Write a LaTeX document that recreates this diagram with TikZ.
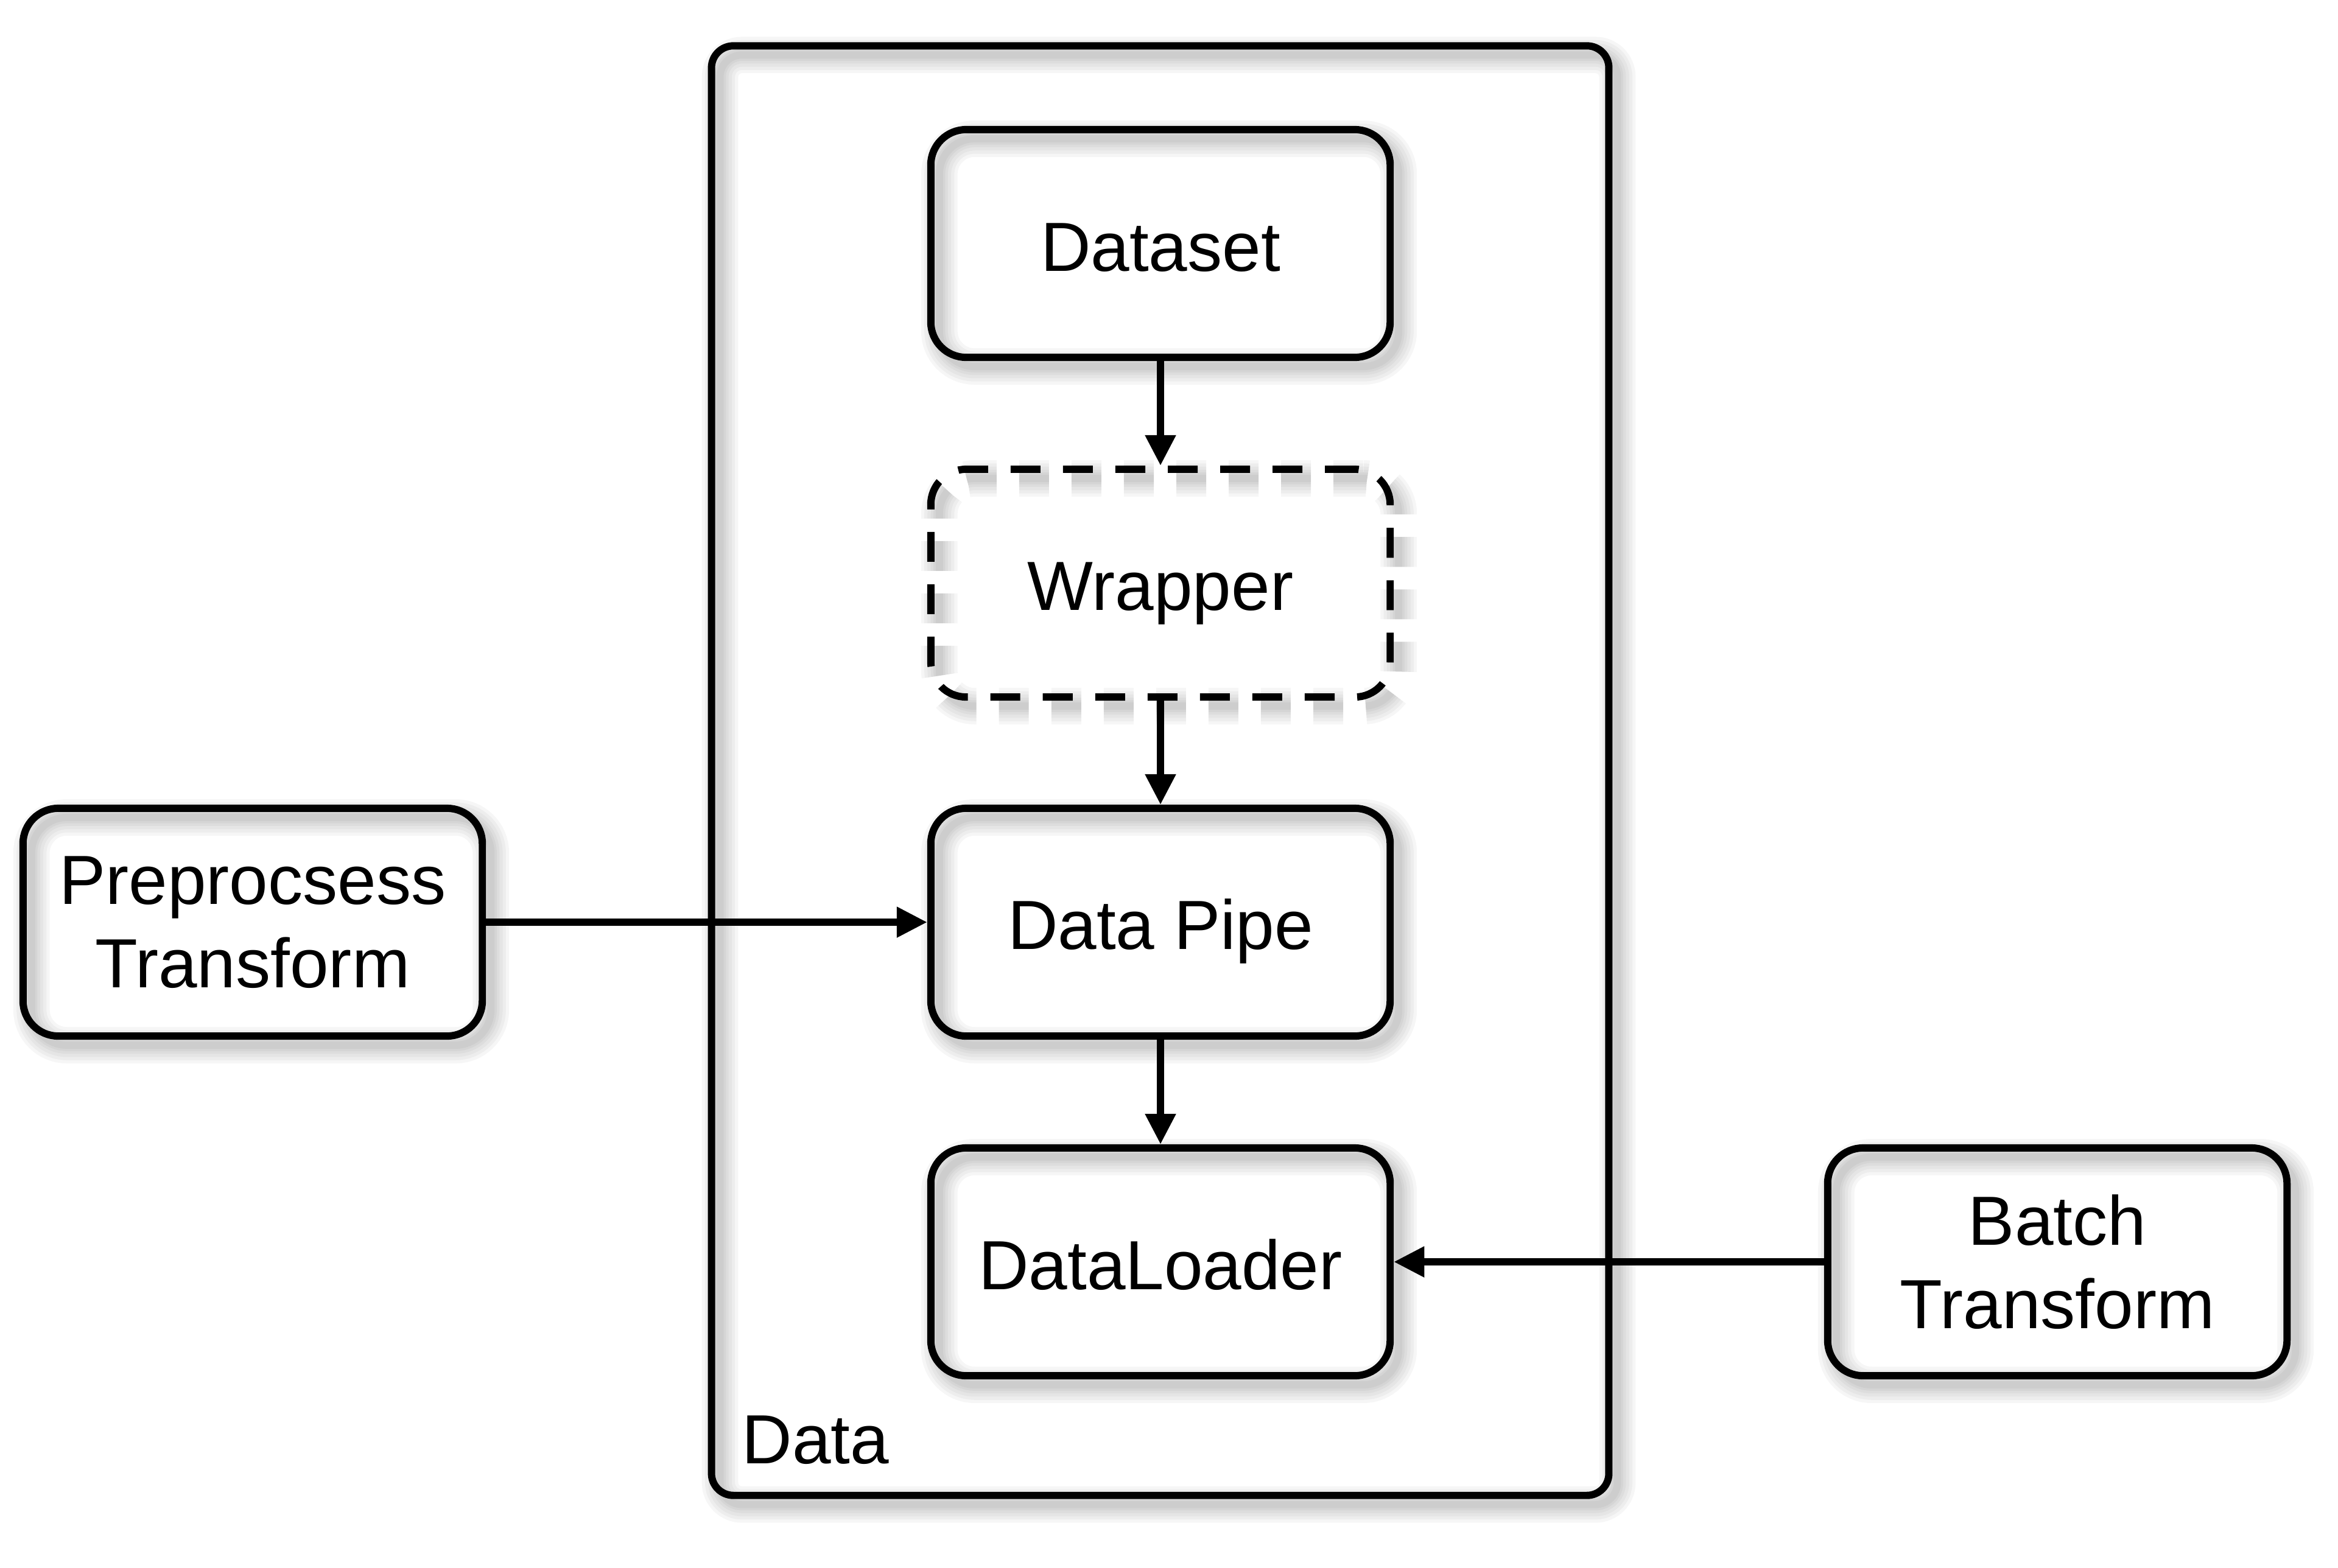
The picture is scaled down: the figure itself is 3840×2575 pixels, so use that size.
\documentclass[tikz,border=0pt]{standalone}
\usepackage{fontspec}
\setmainfont{Liberation Sans}
\usetikzlibrary{arrows.meta}
\newcommand\linestrut{\rule[-6.4pt]{0pt}{38.4pt}}

\begin{document}
\begin{tikzpicture}[x=0.01cm, y=-0.01cm,
            softedge/.style={draw=black, draw opacity=0.035, line width=#1,
                transform canvas={xshift=0.14cm, yshift=-0.15cm}},
            drop/.style={preaction={softedge=17pt}, preaction={softedge=14pt},
                preaction={softedge=11pt}, preaction={softedge=8pt},
                preaction={softedge=5.5pt}, preaction={softedge=3.4pt}},
            block/.style={draw, line width=3.4pt, rounded corners=0.58cm, drop,
                minimum width=7.54cm, minimum height=3.74cm, align=center,
                font=\fontsize{32.5}{39}\selectfont},
            oneline/.style={block, execute at begin node=\linestrut},
            optional/.style={oneline, dash pattern=on 0.49cm off 0.37cm},
            container/.style={draw, line width=3.4pt, rounded corners=0.36cm, drop,
                minimum width=14.73cm, minimum height=23.80cm},
            link/.style={->, line width=3.2pt},
            >={Triangle[length=0.5cm, width=0.48cm]}]
    \useasboundingbox (0,0) rectangle (3840,2575);
    % outer group
    \node[container] (data) at (1905.5,1266) {};
    \node[anchor=base west, inner sep=0pt, font=\fontsize{32.5}{39}\selectfont] (datalabel) at (1218,2404) {Data};
    % inner chain
    \node[oneline] (dataset) at (1906,400) {Dataset};
    \node[optional] (wrapper) at (1906,958) {Wrapper};
    \node[oneline] (pipe) at (1906,1515) {Data Pipe};
    \node[oneline] (loader) at (1906,2073) {DataLoader};
    % transforms
    \node[block] (prep) at (415,1515) {Preprocsess\\Transform};
    \node[block] (batch) at (3379,2073) {Batch\\Transform};
    \draw[link] (dataset) -- (wrapper);
    \draw[link] (wrapper) -- (pipe);
    \draw[link] (pipe) -- (loader);
    \draw[link] (prep) -- (pipe);
    \draw[link] (batch) -- (loader);
\end{tikzpicture}
\end{document}
